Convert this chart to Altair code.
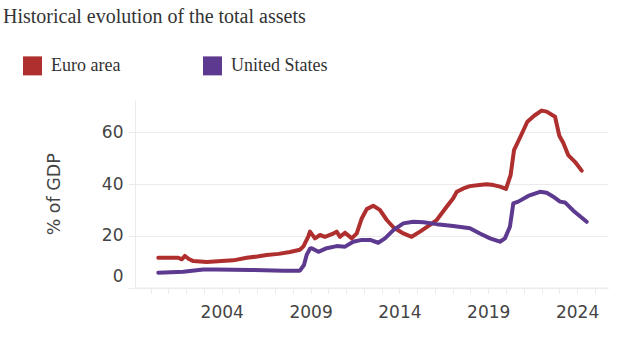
import altair as alt
import pandas as pd

# Euro area (ECB/Eurosystem) total assets, % of GDP
euro_years = [2000.43, 2001.0, 2001.56, 2001.75, 2001.93, 2002.15, 2002.40, 2003.16, 2004.0, 2004.65,
              2005.41, 2006.0, 2006.53, 2007.2, 2007.84, 2008.4, 2008.6, 2008.87, 2008.97, 2009.25,
              2009.53, 2009.81, 2010.2, 2010.47, 2010.66, 2010.94, 2011.32, 2011.6, 2011.88, 2012.16,
              2012.53, 2012.9, 2013.29, 2013.66, 2014.22, 2014.69, 2015.16, 2015.72, 2016.1, 2016.66,
              2017.03, 2017.23, 2017.6, 2017.97, 2018.5, 2018.91, 2019.3, 2019.66, 2020.0, 2020.26,
              2020.45, 2020.79, 2021.2, 2021.6, 2022.0, 2022.29, 2022.76, 2023.0, 2023.22, 2023.5,
              2023.88, 2024.26]
euro_values = [11.5, 11.5, 11.5, 10.9, 12.2, 11.0, 10.2, 9.9, 10.2, 10.5,
               11.5, 12.0, 12.6, 13.0, 13.7, 14.6, 15.9, 19.7, 21.6, 19.0,
               20.3, 19.6, 20.6, 21.6, 19.6, 21.2, 19.0, 20.9, 26.7, 30.3,
               31.6, 30.0, 26.1, 23.3, 20.9, 19.6, 21.6, 24.2, 26.1, 31.2,
               34.5, 37.0, 38.3, 39.2, 39.6, 39.9, 39.6, 39.0, 38.1, 43.5,
               53.1, 58.0, 64.1, 66.5, 68.4, 68.0, 66.0, 58.7, 56.0, 51.2,
               48.6, 45.2]

# United States (Federal Reserve) total assets, % of GDP
us_years = [2000.43, 2001.84, 2002.96, 2003.7, 2005.6, 2007.47, 2008.4, 2008.63, 2008.78, 2008.97,
            2009.06, 2009.44, 2009.91, 2010.47, 2010.94, 2011.4, 2011.88, 2012.35, 2012.81, 2013.19,
            2013.66, 2014.22, 2014.78, 2015.35, 2016.1, 2017.03, 2017.97, 2018.53, 2019.1, 2019.66,
            2019.94, 2020.22, 2020.41, 2020.69, 2021.25, 2021.91, 2022.29, 2022.66, 2023.04, 2023.32,
            2023.79, 2024.54]
us_values = [5.7, 6.1, 7.0, 7.0, 6.8, 6.5, 6.5, 8.7, 12.6, 15.0,
             15.2, 13.8, 15.2, 16.0, 15.8, 17.7, 18.4, 18.4, 17.3, 19.0,
             22.2, 24.8, 25.4, 25.2, 24.5, 23.8, 22.9, 20.9, 19.0, 17.7,
             19.0, 23.5, 32.5, 33.2, 35.4, 37.0, 36.6, 35.1, 33.2, 32.9,
             29.7, 25.4]

series_names = ["Euro area", "United States"]
series_colors = ["#AF2E2E", "#5D3A8F"]
x_tick_years = list(range(2000, 2026))
y_tick_values = [0, 20, 40, 60]

df = pd.concat([
    pd.DataFrame({"year": euro_years, "value": euro_values, "series": series_names[0]}),
    pd.DataFrame({"year": us_years, "value": us_values, "series": series_names[1]}),
])

grid_col = "#EBEBEB"
label_col = "#444444"

chart = alt.Chart(df).mark_line(strokeWidth=4, strokeCap="round", strokeJoin="round").encode(
    x=alt.X("year:Q",
            scale=alt.Scale(domain=[1999.12, 2025.74], nice=False, zero=False),
            axis=alt.Axis(title=None, values=x_tick_years, format="d",
                          labelExpr="datum.value % 5 == 4 ? datum.label : ''",
                          labelOverlap=False, grid=False,
                          tickSize=6, tickColor=grid_col, domainColor=grid_col,
                          labelFont="DejaVu Sans", labelFontSize=17, labelColor=label_col,
                          labelPadding=11)),
    y=alt.Y("value:Q",
            scale=alt.Scale(domain=[0, 72.5], nice=False),
            axis=alt.Axis(title="% of GDP", values=y_tick_values,
                          grid=True, gridColor=grid_col, tickSize=7, tickColor=grid_col,
                          domainColor=grid_col,
                          labelFont="DejaVu Sans", labelFontSize=17, labelColor=label_col,
                          labelPadding=5,
                          labelOffset=alt.condition("datum.value == 0", alt.value(-11), alt.value(0)),
                          titleFont="DejaVu Sans", titleFontSize=17.5, titleColor=label_col,
                          titleFontWeight="normal", titlePadding=38)),
    color=alt.Color("series:N",
                    scale=alt.Scale(domain=series_names, range=series_colors),
                    legend=alt.Legend(title=None, orient="none", direction="horizontal",
                                      legendX=-112, legendY=-44,
                                      symbolType="square", symbolSize=90, symbolStrokeWidth=9.5,
                                      labelFont="Liberation Serif", labelFontSize=18,
                                      labelColor="#333333", labelOffset=9, columnPadding=67)),
).properties(
    width=473,
    height=187.5,
    title=alt.TitleParams(text="Historical evolution of the total assets", anchor="start",
                          frame="group", dx=-132, dy=-25, font="Liberation Serif", fontSize=20,
                          fontWeight="normal", color="#333333"),
    autosize=alt.AutoSizeParams(type="none"),
    padding={"left": 135, "top": 100, "right": 10, "bottom": 54.5},
).configure_view(stroke=None)

chart.save("out.html", embed_options={"renderer": "svg", "actions": False})
